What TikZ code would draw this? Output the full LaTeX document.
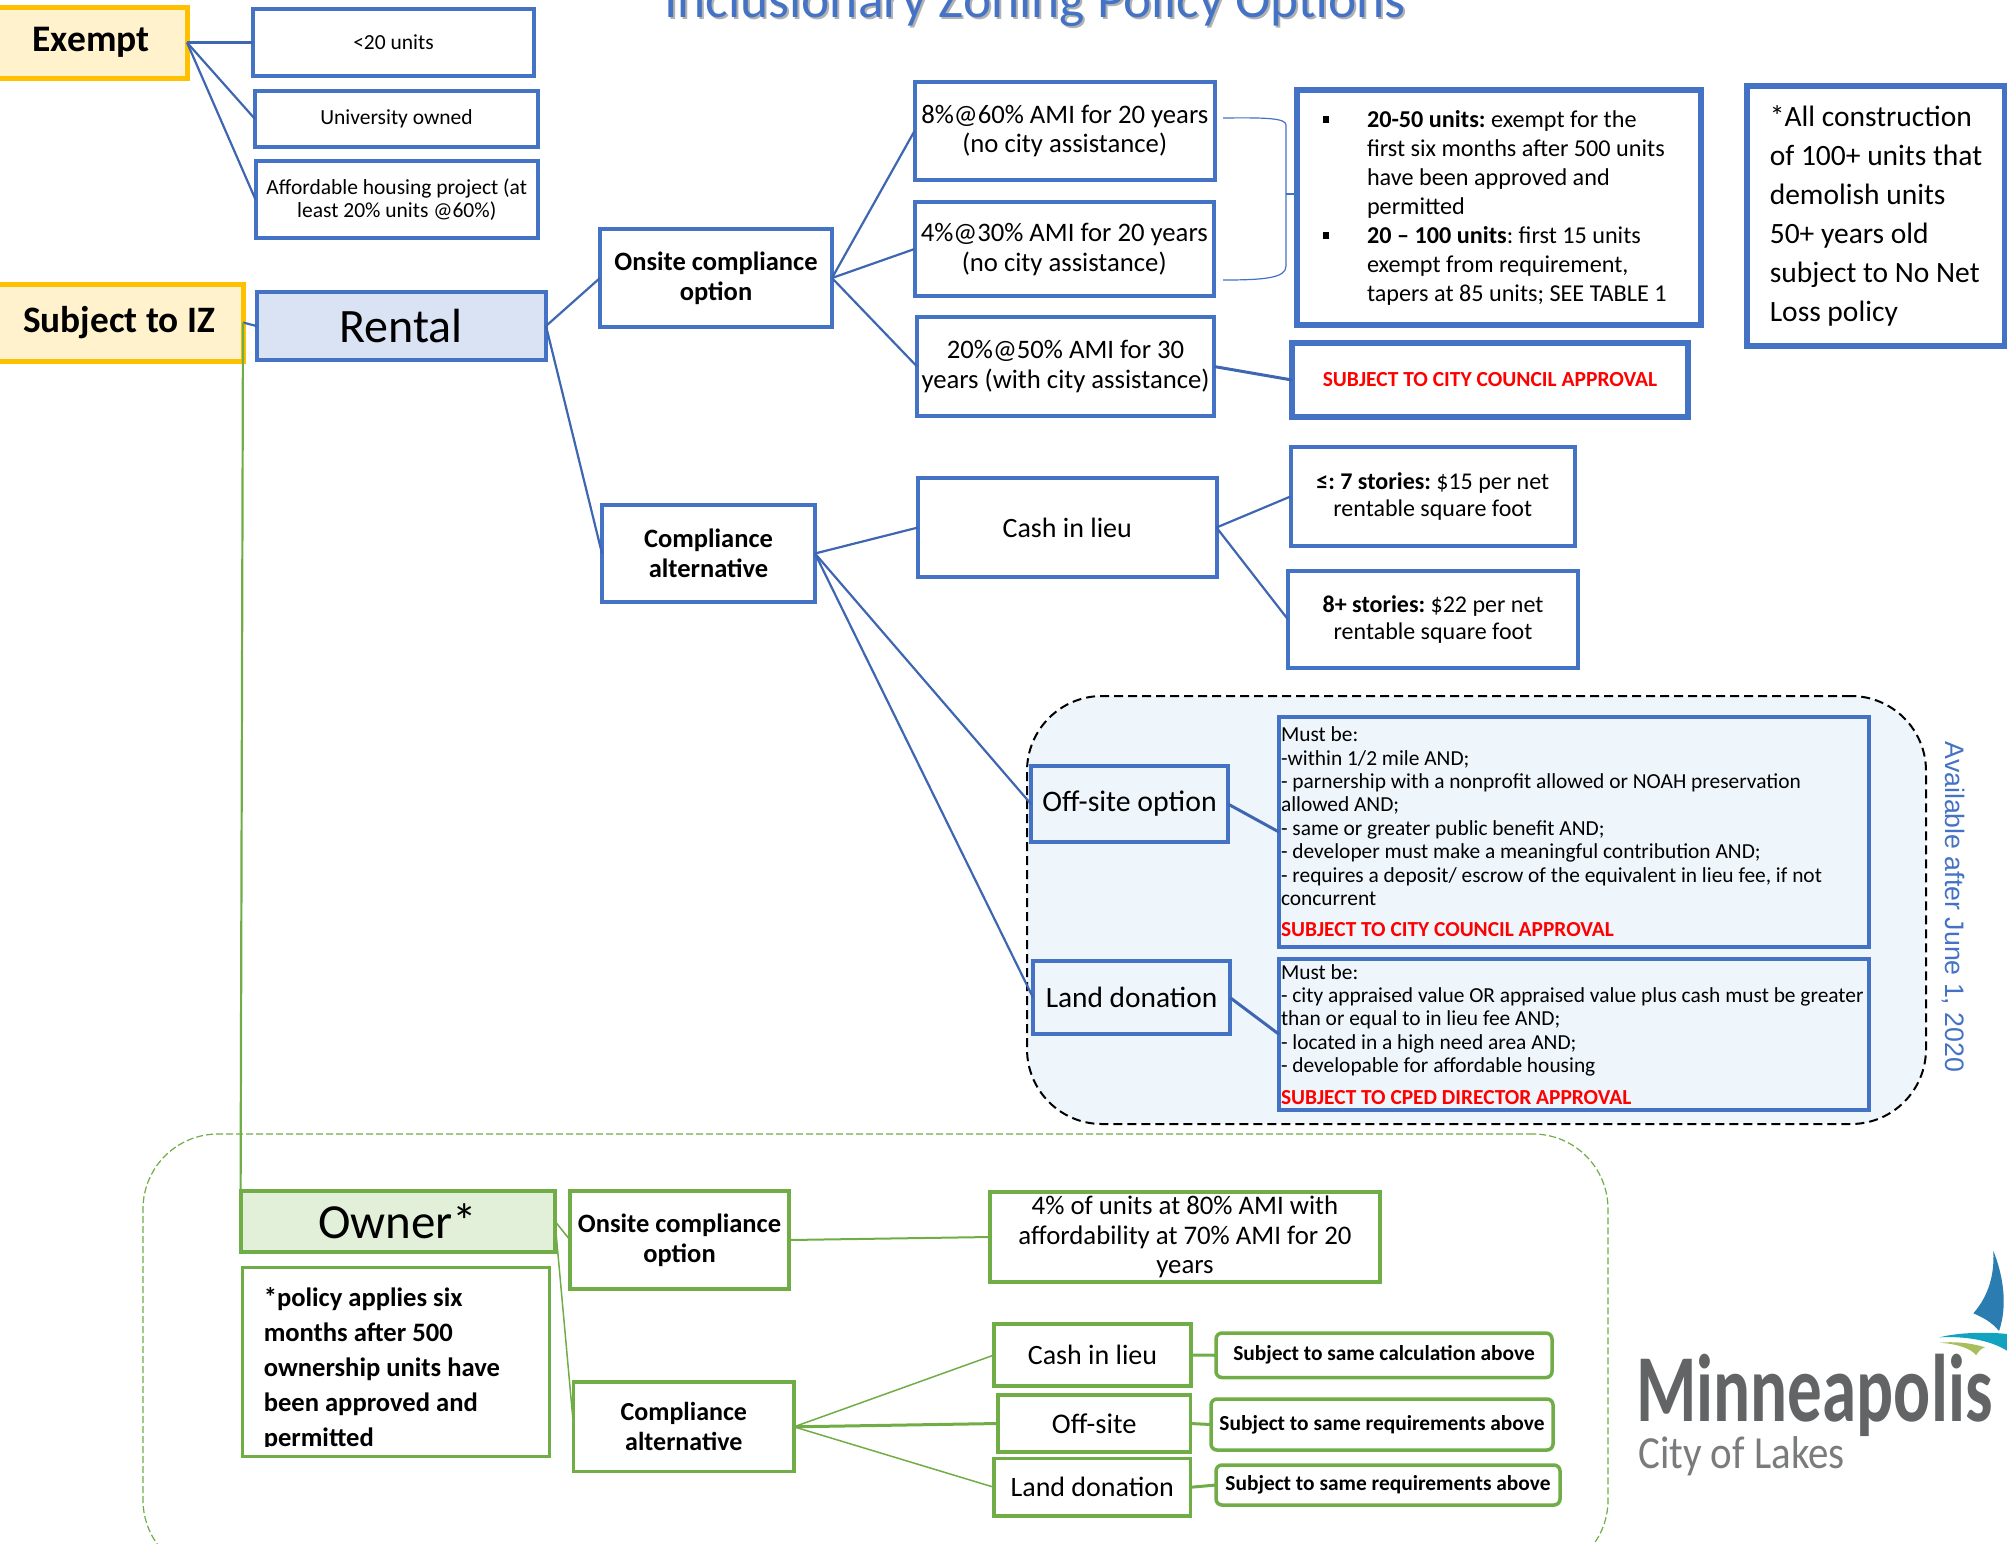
\documentclass[tikz,border=0pt]{standalone}
\usepackage{fontspec}
\usepackage{graphicx}
\setmainfont{Carlito}
\newfontfamily\arialish{Liberation Sans}
\usetikzlibrary{calc}
\definecolor{bl}{HTML}{4472C4}
\definecolor{conn}{HTML}{3F66B0}
\definecolor{gr}{HTML}{70AD47}
\definecolor{yel}{HTML}{FFC000}
\definecolor{yelf}{HTML}{FFF2CC}
\definecolor{blf}{HTML}{DAE3F3}
\definecolor{grf}{HTML}{E2F0D9}
\definecolor{pale}{HTML}{EEF5FB}
\definecolor{logog}{HTML}{636466}
\definecolor{sail}{HTML}{2B7CB0}
\definecolor{lake}{HTML}{12A3BF}
\definecolor{reed}{HTML}{A9BE5C}
\frenchspacing
\newcommand{\fsz}[2]{\fontsize{#1}{#2}\selectfont}
\newcommand{\bx}[7][]{\node[#1,minimum width={(#5-(#3))*1pt},minimum height={(#6-(#4))*1pt}] (#2) at ({(#3+#5)/2},{(#4+#6)/2}) {#7};}
\newcommand{\bul}{\makebox[66pt][l]{\hspace{22pt}\rule[4pt]{6pt}{7pt}}}
\newcommand{\ind}{\hspace*{66pt}}
\tikzset{
 base/.style={draw,align=flush center,inner sep=0pt,outer sep=0pt,text=black},
 yelbox/.style={base,draw=yel,fill=yelf,line width=5pt},
 bluebox/.style={base,draw=bl,line width=4pt,fill=white},
 widebox/.style={bluebox,line width=6pt},
 paleb/.style={bluebox,fill=pale},
 grbox/.style={base,draw=gr,line width=3.5pt,fill=white},
 grround/.style={grbox,rounded corners=6pt},
 bconn/.style={draw=conn,line width=2.2pt},
 gconn/.style={draw=gr,line width=1.5pt},
}
\begin{document}
\begin{tikzpicture}[x=1pt,y=-1pt]
\useasboundingbox (0,0) rectangle (2007,1543);
\clip (0,0) rectangle (2007,1543);
% title
\node[text=black!30,font=\fsz{53.5}{56},anchor=base] at (1037,19) {Inclusionary Zoning Policy Options};
\node[text=bl,font=\fsz{53.5}{56},anchor=base] (title) at (1035,17) {Inclusionary Zoning Policy Options};
% containers
\node[draw=black,fill=pale,dash pattern=on 9pt off 5pt,line width=2pt,rounded corners=75pt,minimum width=899pt,minimum height=428pt,inner sep=0pt] (avail) at (1476.5,910) {};
\node[draw=gr,dash pattern=on 7pt off 3pt,line width=1.2pt,rounded corners=75pt,minimum width=1465pt,minimum height=441pt,inner sep=0pt] (ownerzone) at (875.5,1354.5) {};
% top left
\bx[yelbox,font=\bfseries\fsz{37.5}{40}]{exempt}{-5}{7}{187}{78}{\raisebox{-2.5pt}{Exempt}}
\bx[bluebox,font=\fsz{21.5}{24}]{lt}{253}{9}{534}{76}{<20 units}
\bx[bluebox,font=\fsz{21.5}{24}]{univ}{255}{91}{538}{147}{University owned}
\bx[bluebox,font=\fsz{21.5}{23.5}]{afford}{255.5}{161}{538}{238}{Affordable housing project (at\\least 20\% units @60\%)}
\bx[yelbox,font=\bfseries\fsz{37.3}{40}]{iz}{-5}{284}{243}{361}{\raisebox{-2.5pt}{Subject to IZ}}
\bx[bluebox,fill=blf,font=\fsz{48}{50}]{rental}{256.5}{292}{546}{360}{Rental}
\bx[bluebox,font=\bfseries\fsz{26.5}{30}]{onsite}{600}{229}{832}{327}{Onsite compliance\\option}
\bx[bluebox,font=\bfseries\fsz{26.5}{30}]{comp}{602}{505}{815}{602}{Compliance\\alternative}
% options
\bx[bluebox,font=\fsz{26.7}{29.5}]{opta}{914.5}{82}{1215}{180}{8\%@60\% AMI for 20 years\\(no city assistance)}
\bx[bluebox,font=\fsz{26.7}{30}]{optb}{914.5}{202}{1214}{296}{4\%@30\% AMI for 20 years\\(no city assistance)}
\bx[bluebox,font=\fsz{26.7}{29.5}]{optc}{917}{317}{1214}{416}{20\%@50\% AMI for 30\\years (with city assistance)}
\bx[widebox,font=\fsz{24.2}{29},text width=396pt,align=flush left]{units}{1297}{90}{1701}{325}{\bul\textbf{20-50 units:} exempt for the\\\ind first six months after 500 units\\\ind have been approved and\\\ind permitted\\\bul\textbf{20 -- 100 units}: first 15 units\\\ind exempt from requirement,\\\ind tapers at 85 units; SEE TABLE 1}
\bx[widebox,font=\fsz{29.5}{39},align=flush left]{nonet}{1747}{86}{2005}{346}{*All construction\\of 100+ units that\\demolish units\\50+ years old\\subject to No Net\\Loss policy}
\bx[widebox,font=\bfseries\fsz{21.5}{24},text=red]{cc}{1292}{343}{1688}{417}{SUBJECT TO CITY COUNCIL APPROVAL}
\bx[bluebox,font=\fsz{28}{30}]{cash}{918}{478}{1216.5}{577}{Cash in lieu}
\bx[bluebox,font=\fsz{24}{27}]{seven}{1290.5}{447}{1575}{546}{\textbf{≤: 7 stories:} \$15 per net\\rentable square foot}
\bx[bluebox,font=\fsz{24}{27}]{eight}{1288}{571}{1578}{668}{\textbf{8+ stories:} \$22 per net\\rentable square foot}
% off-site and land
\bx[bluebox,fill=pale,font=\fsz{29.8}{32}]{off}{1031}{766}{1228}{842}{Off-site option}
\bx[bluebox,fill=pale,font=\fsz{29.4}{32}]{land}{1033}{961}{1230}{1034}{Land donation}
\bx[paleb,font=\fsz{21.4}{23.4},text width=586pt,align=flush left]{mustoff}{1279}{717}{1869}{947}{Must be:\\-within 1/2 mile AND;\\- parnership with a nonprofit allowed or NOAH preservation\\allowed AND;\\- same or greater public benefit AND;\\- developer must make a meaningful contribution AND;\\- requires a deposit/ escrow of the equivalent in lieu fee, if not\\concurrent\\[8pt]\textcolor{red}{\textbf{SUBJECT TO CITY COUNCIL APPROVAL}}}
\bx[paleb,font=\fsz{21.4}{23.4},text width=586pt,align=flush left]{mustland}{1279}{959}{1869}{1109.5}{Must be:\\- city appraised value OR appraised value plus cash must be greater\\than or equal to in lieu fee AND;\\- located in a high need area AND;\\- developable for affordable housing\\[8pt]\textcolor{red}{\textbf{SUBJECT TO CPED DIRECTOR APPROVAL}}}
\node[rotate=-90,text=bl,font=\arialish\fsz{26.7}{30}] (availtxt) at (1953,907) {Available after June 1, 2020};
% owner
\bx[grbox,fill=grf,font=\fsz{49}{50},line width=4pt]{owner}{240.6}{1191}{555}{1251.5}{Owner*}
\bx[grbox,font=\bfseries\fsz{26.6}{35},text width=264pt,align=flush left,line width=3pt]{pol}{242.5}{1267.5}{549}{1456}{\rule{0pt}{33pt}*policy applies six\\months after 500\\ownership units have\\been approved and\\permitted}
\fill[white] (246,1447) rectangle (545,1453);
\bx[grbox,font=\bfseries\fsz{26.5}{30}]{gon}{570}{1191}{789}{1289}{Onsite compliance\\option}
\bx[grbox,font=\bfseries\fsz{26}{30}]{gcomp}{573.6}{1382}{794}{1471.6}{Compliance\\alternative}
\bx[grbox,font=\fsz{26.8}{29.5}]{gfour}{990}{1192}{1380}{1282}{4\% of units at 80\% AMI with\\affordability at 70\% AMI for 20\\years}
\bx[grbox,font=\fsz{28}{30}]{gcash}{994}{1324}{1191}{1386}{Cash in lieu}
\bx[grbox,font=\fsz{28.5}{30}]{goff}{998}{1395}{1190.5}{1452}{Off-site}
\bx[grbox,font=\fsz{28}{30}]{gland}{994}{1458.5}{1190.5}{1516}{Land donation}
\bx[grround,font=\bfseries\fsz{21.4}{24}]{sa}{1216}{1333}{1552}{1377.5}{Subject to same calculation above}
\bx[grround,font=\bfseries\fsz{21.4}{24}]{sb}{1211}{1399}{1553}{1450}{Subject to same requirements above}
\bx[grround,font=\bfseries\fsz{21.4}{24}]{sc}{1216}{1465}{1560}{1505}{Subject to same requirements above}
% connectors
\draw[bconn] (exempt.east) -- (lt.west);
\draw[bconn] (exempt.east) -- (univ.west);
\draw[bconn] (exempt.east) -- (afford.west);
\draw[bconn] (iz.east) -- (rental.west);
\draw[bconn] (rental.east) -- (onsite.west);
\draw[bconn] (rental.east) -- (comp.west);
\draw[bconn] (onsite.east) -- (opta.west);
\draw[bconn] (onsite.east) -- (optb.west);
\draw[bconn] (onsite.east) -- (optc.west);
\draw[bconn,line width=3pt] (optc.east) -- (cc.west);
\draw[bconn] (comp.east) -- (cash.west);
\draw[bconn] (cash.east) -- (seven.west);
\draw[bconn] (cash.east) -- (eight.west);
\draw[bconn] (comp.east) -- (off.west);
\draw[bconn] (comp.east) -- (land.west);
\draw[bconn,line width=3pt] (off.east) -- (mustoff.west);
\draw[bconn,line width=3pt] (land.east) -- (mustland.west);
\coordinate (bra) at ($(opta.east)+(8,-13)$);
\coordinate (brb) at ($(optb.east)+(9,31)$);
\coordinate (brm) at (1286,194);
\coordinate (brn) at ($(units.west)+(0,-13.5)$);
\draw[draw=bl,line width=1.2pt] (bra) .. controls (1265,117.5) and (1286,118) .. (1286,125) -- (1286,266) .. controls (1286,278) and (1265,280) .. (brb);
\draw[draw=bl,line width=1.2pt] (brm) -- (brn);
\draw[gconn,line width=2.2pt] (iz.east) -- (owner.north west);
\draw[gconn] (owner.east) -- (gon.west);
\draw[gconn] (owner.east) -- (gcomp.west);
\draw[gconn,line width=2pt] (gon.east) -- (gfour.west);
\draw[gconn] (gcomp.east) -- (gcash.west);
\draw[gconn,line width=3pt] (gcomp.east) -- (goff.west);
\draw[gconn] (gcomp.east) -- (gland.west);
\draw[gconn,line width=3pt] (gcash.east) -- (sa.west);
\draw[gconn,line width=3pt] (goff.east) -- (sb.west);
\draw[gconn,line width=3pt] (gland.east) -- (sc.west);
% logo
\node[anchor=base west,inner sep=0pt,text=logog,font=\bfseries\fsz{96}{100}] (mpls) at (1636,1421) {\scalebox{0.72}[1]{Minneapolis}};
\node[anchor=base west,inner sep=0pt,text=logog!85,font=\fsz{46}{50}] (lakes) at (1638,1468) {\scalebox{0.89}[1]{City of Lakes}};
\fill[sail] (1993.3,1250.7) .. controls (2003,1275) and (2008,1305) .. (1999,1331) .. controls (1992,1322) and (1982,1317) .. (1973.3,1313.3) .. controls (1985,1300) and (1995,1280) .. (1993.3,1250.7) -- cycle;
\fill[lake] (1939.3,1337.3) .. controls (1960,1332) and (1990,1332) .. (2007,1334) -- (2007,1350.7) .. controls (1990,1340) and (1965,1336) .. (1939.3,1337.3) -- cycle;
\fill[reed] (1940,1342.7) .. controls (1958,1341) and (1975,1344) .. (1985,1347.3) .. controls (1980,1349) and (1978,1352) .. (1976,1355.3) .. controls (1972,1349) and (1958,1344) .. (1940,1342.7) -- cycle;
\end{tikzpicture}
\end{document}
